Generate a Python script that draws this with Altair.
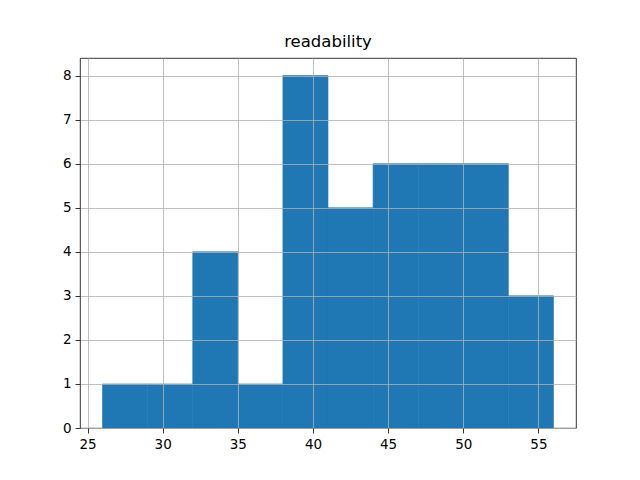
import altair as alt
import pandas as pd

bin_start = [26, 29, 32, 35, 38, 41, 44, 47, 50, 53]
bin_end = [29, 32, 35, 38, 41, 44, 47, 50, 53, 56]
counts = [1, 1, 4, 1, 8, 5, 6, 6, 6, 3]
x_ticks = [25, 30, 35, 40, 45, 50, 55]
y_ticks = [0, 1, 2, 3, 4, 5, 6, 7, 8]

df = pd.DataFrame({"start": bin_start, "end": bin_end, "count": counts, "zero": [0] * len(counts)})

chart = alt.Chart(df).mark_bar(color="#1f77b4", stroke="#1f77b4", strokeWidth=0.6).encode(
    x=alt.X("start:Q", scale=alt.Scale(domain=[24.5, 57.5], nice=False, zero=False, padding=0),
            axis=alt.Axis(values=x_ticks, title=None, grid=True, zindex=1)),
    x2="end:Q",
    y=alt.Y("count:Q", scale=alt.Scale(domain=[0, 8.4], nice=False, padding=0),
            axis=alt.Axis(values=y_ticks, title=None, grid=True, zindex=1)),
    y2="zero:Q",
).properties(
    width=496, height=370,
    title=alt.Title("readability", fontSize=16.5, font="DejaVu Sans", fontWeight="normal", offset=8, anchor="middle", color="black"),
    autosize=alt.AutoSizeParams(type="none"),
    padding={"left": 72, "top": 50, "right": 56, "bottom": 45},
).configure_axis(
    labelFont="DejaVu Sans", labelFontSize=13.5, labelColor="black",
    tickColor="black", tickSize=5, tickWidth=0.8, labelPadding=4,
    domain=False, gridColor="#b0b0b0", gridWidth=0.8, gridOpacity=1,
).configure_view(stroke="black", strokeWidth=0.8)

chart.save("out.html", embed_options={"renderer": "svg", "actions": False})
